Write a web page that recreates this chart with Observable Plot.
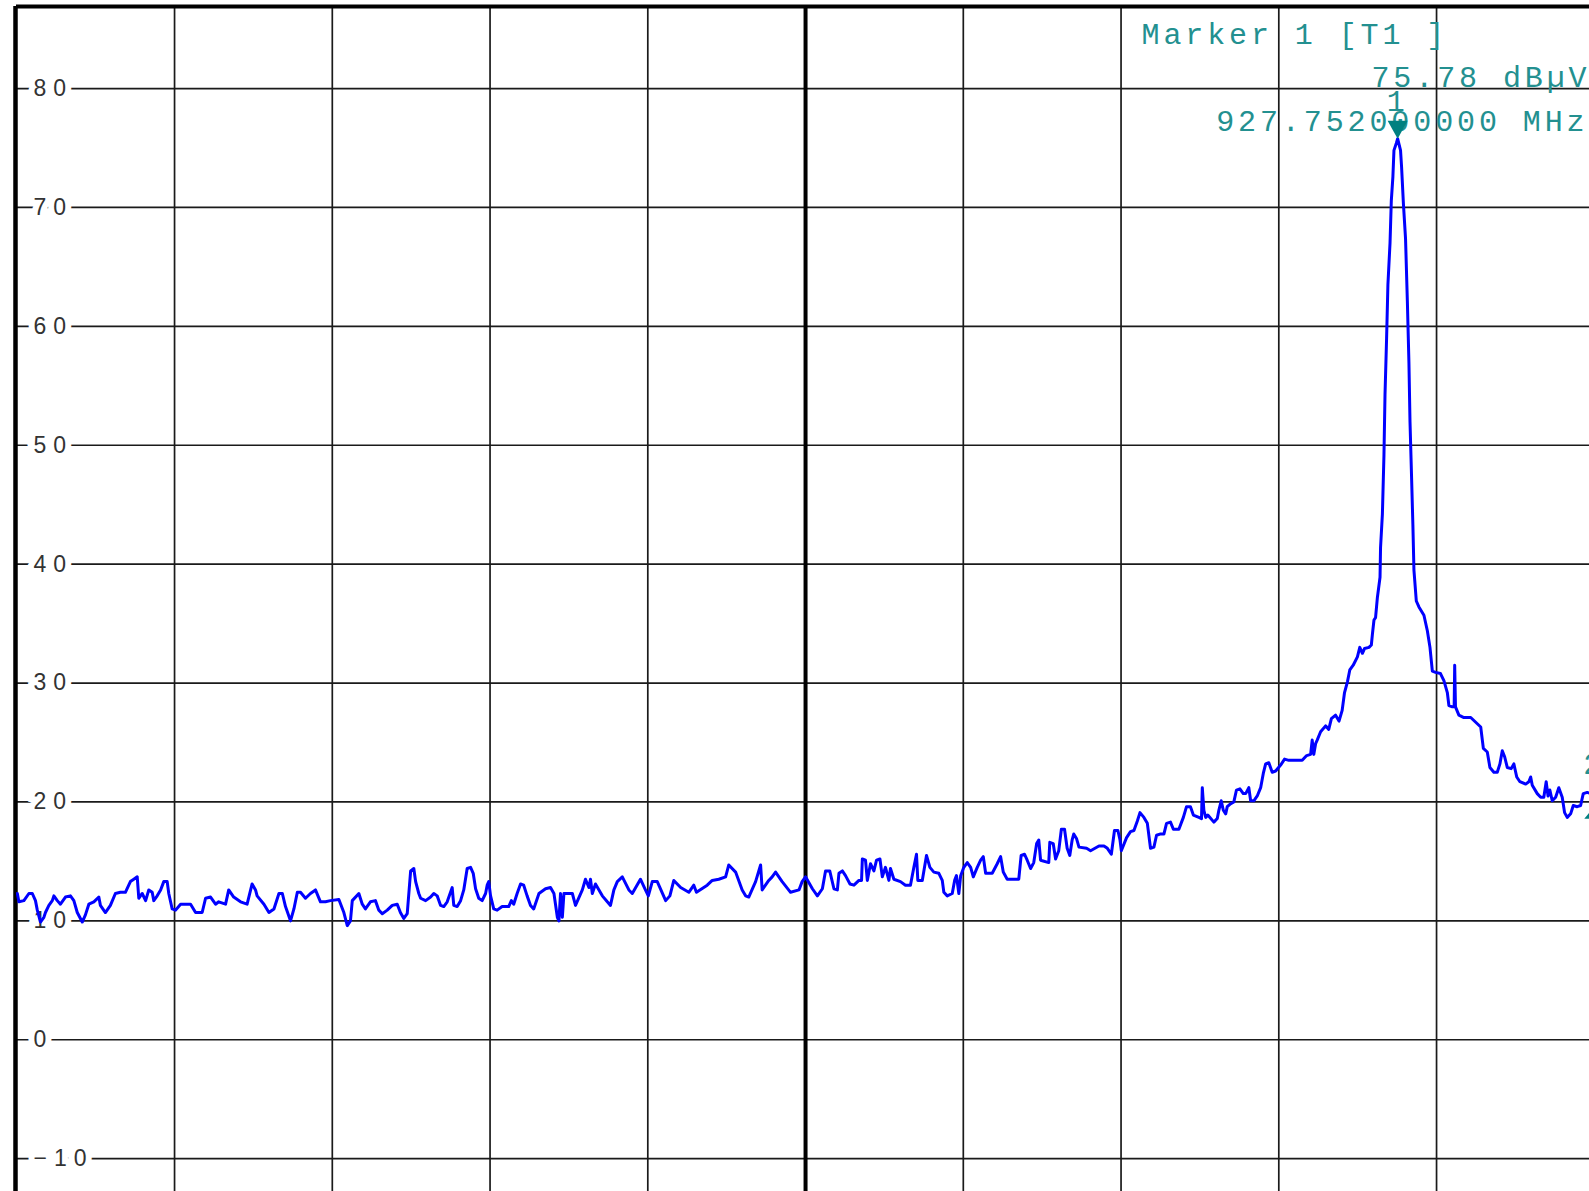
<!DOCTYPE html>
<html><head><meta charset="utf-8">
<script src="https://cdn.jsdelivr.net/npm/d3@7"></script>
<script src="https://cdn.jsdelivr.net/npm/@observablehq/plot@0.6"></script>
<style>html,body{margin:0;padding:0;background:#fff;overflow:hidden}</style>
</head><body><div id="chart"></div>
<script>
// Sweep trace: frequency (MHz) and level (dBµV)
const freqMHz = [
922.502,922.508,922.527,922.546,922.559,922.571,922.578,922.590,922.603,922.609,
922.622,922.635,922.641,922.654,922.666,922.685,922.704,922.717,922.730,922.749,
922.761,922.774,922.793,922.812,922.818,922.837,922.856,922.875,922.894,922.913,
922.932,922.945,922.958,922.964,922.977,922.990,923.002,923.015,923.021,923.034,
923.047,923.059,923.072,923.078,923.091,923.104,923.123,923.161,923.180,923.205,
923.218,923.237,923.256,923.268,923.294,923.306,923.325,923.351,923.376,923.395,
923.408,923.414,923.440,923.459,923.478,923.497,923.510,923.522,923.541,923.554,
923.567,923.579,923.598,923.617,923.636,923.655,923.674,923.693,923.725,923.744,
923.757,923.769,923.776,923.801,923.814,923.826,923.845,923.864,923.877,923.890,
923.909,923.928,923.947,923.959,923.972,923.985,923.998,924.010,924.017,924.029,
924.036,924.055,924.074,924.086,924.099,924.112,924.124,924.137,924.156,924.162,
924.175,924.188,924.200,924.213,924.226,924.236,924.245,924.257,924.270,924.283,
924.289,924.295,924.302,924.314,924.327,924.346,924.371,924.381,924.390,924.403,
924.416,924.428,924.441,924.454,924.466,924.486,924.511,924.530,924.543,924.556,
924.562,924.568,924.575,924.581,924.613,924.625,924.651,924.663,924.676,924.682,
924.689,924.701,924.727,924.746,924.758,924.771,924.784,924.803,924.828,924.841,
924.872,924.891,924.902,924.917,924.936,924.968,924.984,924.999,925.025,925.056,
925.075,925.085,925.126,925.145,925.170,925.196,925.208,925.234,925.259,925.272,
925.284,925.310,925.329,925.335,925.360,925.373,925.386,925.411,925.443,925.475,
925.487,925.500,925.526,925.545,925.564,925.576,925.592,925.608,925.621,
925.627,925.640,925.652,925.669,925.684,925.703,925.713,925.716,925.728,925.735,
925.747,925.760,925.770,925.783,925.792,925.804,925.817,925.823,925.836,925.861,
925.880,925.899,925.912,925.922,925.927,925.944,925.960,925.973,925.988,926.007,
926.020,926.026,926.039,926.058,926.067,926.074,926.083,926.090,926.102,926.115,
926.128,926.138,926.153,926.166,926.176,926.185,926.210,926.229,926.242,926.252,
926.267,926.311,926.320,926.333,926.343,926.356,926.368,926.379,926.387,926.394,
926.425,926.429,926.442,926.451,926.463,926.473,926.485,926.495,926.505,926.514,
926.520,926.531,926.540,926.569,926.584,926.616,926.635,926.648,926.663,926.675,
926.688,926.696,926.701,926.721,926.736,926.749,926.762,926.772,926.787,926.800,
926.812,926.825,926.835,926.848,926.863,926.873,926.888,926.899,926.920,926.937,
926.949,926.964,926.975,926.996,927.006,927.009,927.015,927.022,927.030,927.053,
927.066,927.072,927.081,927.089,927.098,927.104,927.114,927.129,927.139,927.152,
927.165,927.174,927.186,927.193,927.205,927.218,927.231,927.241,927.250,927.262,
927.275,927.288,927.307,927.322,927.338,927.357,927.389,927.406,927.421,927.427,
927.433,927.440,927.446,927.459,927.478,927.490,927.500,927.516,927.529,927.541,
927.550,927.561,927.570,927.583,927.599,927.608,927.618,927.626,927.643,927.652,
927.656,927.662,927.668,927.675,927.685,927.687,927.694,927.700,927.704,927.710,
927.715,927.723,927.728,927.734,927.738,927.747,927.752,927.763,927.767,927.774,
927.782,927.789,927.795,927.799,927.805,927.810,927.814,927.823,927.833,927.852,
927.865,927.875,927.884,927.896,927.915,927.928,927.941,927.947,927.960,927.967,
927.969,927.972,927.985,928.004,928.030,928.049,928.068,928.078,928.093,928.103,
928.118,928.131,928.141,928.150,928.159,928.169,928.184,928.194,928.205,928.217,
928.239,928.251,928.258,928.264,928.283,928.296,928.308,928.317,928.324,928.331,
928.340,928.353,928.365,928.378,928.387,928.397,928.410,928.420,928.435,928.448,
928.458,928.473,928.500
];
const levelDbuV = [
12.3,11.6,11.7,12.3,12.3,11.7,10.9,9.9,10.3,10.7,
11.3,11.7,12.1,11.7,11.4,12.0,12.1,11.7,10.7,9.9,
10.5,11.4,11.6,12.0,11.3,10.7,11.3,12.3,12.4,12.4,
13.3,13.5,13.7,11.9,12.3,11.7,12.6,12.4,11.7,12.1,
12.6,13.3,13.3,12.3,11.0,10.9,11.4,11.4,10.7,10.7,
11.9,12.0,11.4,11.6,11.4,12.6,12.0,11.6,11.4,13.1,
12.6,12.1,11.4,10.7,11.0,12.3,12.3,11.2,10.0,11.0,
12.4,12.4,11.9,12.3,12.6,11.6,11.6,11.7,11.8,10.7,
9.6,10.0,11.7,12.3,11.4,11.0,11.6,11.7,10.9,10.6,
10.9,11.3,11.4,10.7,10.2,10.6,14.2,14.4,13.3,12.3,
11.9,11.7,12.0,12.3,12.1,11.3,11.2,11.6,12.8,11.3,
11.2,11.7,12.6,14.4,14.5,14.0,12.7,11.9,11.7,12.3,
13.0,13.3,12.1,11.0,10.9,11.2,11.2,11.7,11.4,12.3,
13.1,13.0,12.1,11.3,11.0,12.3,12.7,12.8,12.3,10.3,
10.0,12.3,10.3,12.3,12.3,11.3,12.6,13.5,12.8,13.5,
12.3,13.1,12.1,11.6,11.3,12.6,13.3,13.7,12.6,12.3,
13.5,12.6,12.1,13.3,13.3,11.7,12.1,13.4,12.8,12.4,
13.0,12.4,13.0,13.4,13.5,13.7,14.7,14.1,12.6,12.1,
12.0,13.3,14.7,12.6,13.4,13.7,14.1,13.3,12.4,12.6,
13.3,13.7,12.7,12.1,12.7,14.2,14.2,12.7,12.6,
14.0,14.2,13.8,13.1,13.0,13.4,13.4,15.2,15.1,13.4,
14.8,14.2,15.1,15.2,13.7,14.5,13.4,14.4,13.5,13.3,
13.0,13.0,14.5,15.6,13.4,13.4,15.5,14.5,14.1,14.0,
13.4,12.4,12.1,12.3,13.4,13.8,12.3,13.8,14.5,14.9,
14.5,13.7,14.5,15.1,15.4,14.0,14.0,14.8,15.4,14.1,
13.5,13.5,15.5,15.6,15.1,14.4,14.9,16.5,16.8,15.1,
14.9,16.6,16.5,15.2,15.9,17.7,17.7,16.1,15.5,16.8,
17.3,16.9,16.2,16.1,15.9,16.3,16.3,16.1,15.6,17.6,
17.6,16.8,15.9,17.0,17.5,17.6,18.4,19.1,18.7,18.2,
16.1,16.2,17.2,17.3,17.3,18.2,18.3,17.7,17.7,18.7,
19.6,19.6,18.9,18.7,18.6,21.2,19.3,18.7,18.9,18.3,
18.6,19.3,20.1,19.3,19.0,19.6,19.8,20.0,21.0,21.1,
20.7,20.7,21.2,20.1,20.1,20.5,21.2,22.4,23.2,23.3,
22.5,22.6,23.1,23.6,23.5,23.5,23.5,23.9,24.0,25.2,
24.0,24.9,25.2,25.9,26.4,26.1,27.0,27.3,26.8,27.7,
29.2,30.1,31.1,31.5,32.2,33.0,32.5,32.9,33.0,33.2,
34.1,35.3,35.5,37.2,38.9,41.4,44.2,49.2,54.3,59.0,
63.5,67.0,70.6,72.6,74.8,75.4,75.78,74.8,73.4,70.3,
67.4,62.1,56.9,52.0,47.3,43.3,39.5,36.9,36.4,35.7,
34.4,33.0,31.0,30.9,30.8,30.2,29.2,28.1,28.0,28.0,
31.5,28.0,27.3,27.1,27.1,26.7,26.3,24.5,24.2,22.9,
22.5,22.5,23.2,24.3,23.8,22.9,22.8,23.2,22.1,21.7,
21.5,21.7,22.1,21.4,20.7,20.4,20.4,21.7,20.5,21.0,
20.1,20.4,21.2,20.4,19.1,18.7,19.0,19.7,19.6,19.7,
20.7,20.8,20.6
];

// Axis / grid definitions
const yTicks = [80, 70, 60, 50, 40, 30, 20, 10, 0, -10];
const xDivisions = [923.1, 923.7, 924.3, 924.9, 925.5, 926.1, 926.7, 927.3, 927.9];
const centerFreq = 925.5;
const spanStart = 922.5, spanStop = 928.5;
const refTop = 86.9, refBottom = -13.1;

// Markers
const marker1 = {freq: 927.752, level: 75.78, label: "1"};
const marker2 = {freq: 928.5, level: 19.1, label: "2"};
const markerHeader = ["Marker 1 [T1 ]"];
const markerReadout = ["75.78 dBµV", "927.752000000 MHz"];

const trace = freqMHz.map((f, i) => ({freq: f, level: levelDbuV[i]}));
const fmt = d => d < 0 ? "\u2212" + Math.abs(d) : String(d);

const teal = "#239090";
const mono = "Liberation Mono";
const triDown = {draw(ctx, size) { const s = Math.sqrt(size); ctx.moveTo(-s/2, -s*0.45); ctx.lineTo(s/2, -s*0.45); ctx.lineTo(0, s*0.45); ctx.closePath(); }};
const triUp = {draw(ctx, size) { const s = Math.sqrt(size); ctx.moveTo(-s/2, s*0.3); ctx.lineTo(s/2, s*0.3); ctx.lineTo(0, -s*0.3); ctx.closePath(); }};

const svg = Plot.plot({
  width: 1589, height: 1191,
  marginLeft: 16, marginRight: 0, marginTop: 6, marginBottom: 0,
  x: {domain: [spanStart, spanStop], range: [16.3, 1593.8], axis: null},
  y: {domain: [refBottom, refTop], range: [1195, 6], axis: null},
  style: {background: "#fff"},
  marks: [
    Plot.ruleY(yTicks, {stroke: "#1a1a1a", strokeWidth: 1.7}),
    Plot.ruleX(xDivisions.filter(d => d !== centerFreq), {stroke: "#1a1a1a", strokeWidth: 1.7}),
    Plot.ruleX([centerFreq], {stroke: "#000", strokeWidth: 4}),
    Plot.ruleX([spanStart], {stroke: "#000", strokeWidth: 4.5, dx: -1.3}),
    Plot.ruleY([refTop], {stroke: "#000", strokeWidth: 4}),
    Plot.text(yTicks, {y: d => d, text: d => fmt(d), frameAnchor: "left", dx: 17, textAnchor: "start",
      lineAnchor: "middle", fontFamily: "Liberation Sans", fontSize: 23, fill: "#333",
      stroke: "white", strokeWidth: 12, strokeLinejoin: "miter"}),
    Plot.text(markerHeader, {text: d => d, frameAnchor: "top-right", dx: -448, dy: 37, textAnchor: "start",
      lineAnchor: "bottom", fontFamily: mono, fontSize: 30, fill: teal}),
    Plot.text(markerReadout, {text: d => d, frameAnchor: "top-right", textAnchor: "end",
      lineAnchor: "bottom", fontFamily: mono, fontSize: 30, fill: teal}),
    Plot.line(trace, {x: "freq", y: "level", stroke: "#0000ff", strokeWidth: 3, clip: true}),
    Plot.dot([marker1], {x: "freq", y: "level", symbol: triDown, r: 11.3, fill: "#008080", stroke: null, dy: -9}),
    Plot.text([marker1], {x: "freq", y: "level", text: "label", dy: -28, lineAnchor: "bottom",
      fontFamily: mono, fontSize: 30, fill: teal}),
    Plot.dot([marker2], {x: "freq", y: "level", symbol: triUp, r: 11.3, fill: "#008080", stroke: null}),
    Plot.text([marker2], {x: "freq", y: "level", text: "label", dy: -39, lineAnchor: "bottom",
      fontFamily: mono, fontSize: 30, fill: teal})
  ]
});

// letter spacing for the instrument-style fonts
svg.querySelectorAll('g[font-family="Liberation Sans"]').forEach(g => g.setAttribute("letter-spacing", "7"));
svg.querySelectorAll('g[font-family="Liberation Mono"]').forEach(g => g.setAttribute("letter-spacing", "3.9"));
// place the two readout lines
const readoutTexts = [...svg.querySelectorAll('g[font-family="Liberation Mono"][text-anchor="end"] text')];
if (readoutTexts.length === 2) {
  readoutTexts[0].setAttribute("transform", "translate(1590,86)");
  readoutTexts[1].setAttribute("transform", "translate(1588,130)");
}
document.getElementById("chart").appendChild(svg);
</script>
</body></html>
